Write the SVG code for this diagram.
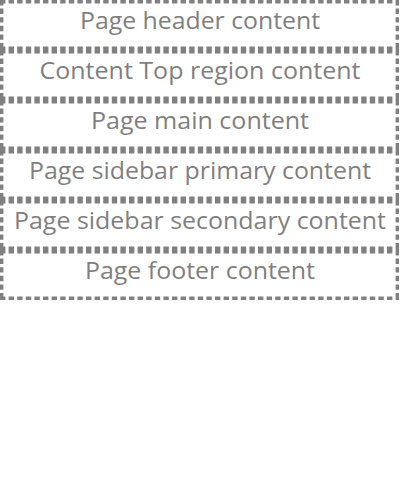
<svg xmlns="http://www.w3.org/2000/svg" width="400" height="480" viewBox="0 0 400 480">
  <style>
    .region .bg { fill: #ffffff; }
    .region .edge { fill: none; stroke: #808080; stroke-width: 3.4; stroke-dasharray: 5.4 3.2; }
    .region text { font-family: "Open Sans", "Liberation Sans", sans-serif; font-size: 23.5px; fill: #7f7f7f; text-anchor: middle; }
  </style>
  <rect x="0" y="0" width="400" height="480" fill="#ffffff"/>
  <!-- each region: background, then four dashed edges drawn left-to-right / top-to-bottom so the dash phase lines up -->
  <g id="page-header" class="region">
    <rect class="bg" x="0" y="0" width="399" height="50"/>
    <path class="edge" d="M0 1.7H399M0 48.3H399M1.7 0V50M397.3 0V50"/>
    <text x="200" y="29" textLength="240" lengthAdjust="spacingAndGlyphs">Page header content</text>
  </g>
  <g id="content-top" class="region">
    <rect class="bg" x="0" y="50" width="399" height="50"/>
    <path class="edge" d="M0 51.7H399M0 98.3H399M1.7 50V100M397.3 50V100"/>
    <text x="200" y="79" textLength="321" lengthAdjust="spacingAndGlyphs">Content Top region content</text>
  </g>
  <g id="page-main" class="region">
    <rect class="bg" x="0" y="100" width="399" height="50"/>
    <path class="edge" d="M0 101.7H399M0 148.3H399M1.7 100V150M397.3 100V150"/>
    <text x="200" y="129" textLength="218" lengthAdjust="spacingAndGlyphs">Page main content</text>
  </g>
  <g id="sidebar-primary" class="region">
    <rect class="bg" x="0" y="150" width="399" height="50"/>
    <path class="edge" d="M0 151.7H399M0 198.3H399M1.7 150V200M397.3 150V200"/>
    <text x="200" y="179" textLength="342" lengthAdjust="spacingAndGlyphs">Page sidebar primary content</text>
  </g>
  <g id="sidebar-secondary" class="region">
    <rect class="bg" x="0" y="200" width="399" height="50"/>
    <path class="edge" d="M0 201.7H399M0 248.3H399M1.7 200V250M397.3 200V250"/>
    <text x="200" y="229" textLength="372" lengthAdjust="spacingAndGlyphs">Page sidebar secondary content</text>
  </g>
  <g id="page-footer" class="region">
    <rect class="bg" x="0" y="250" width="399" height="50"/>
    <path class="edge" d="M0 251.7H399M0 298.3H399M1.7 250V300M397.3 250V300"/>
    <text x="200" y="279" textLength="230" lengthAdjust="spacingAndGlyphs">Page footer content</text>
  </g>
  <g id="connectors"/>
</svg>
